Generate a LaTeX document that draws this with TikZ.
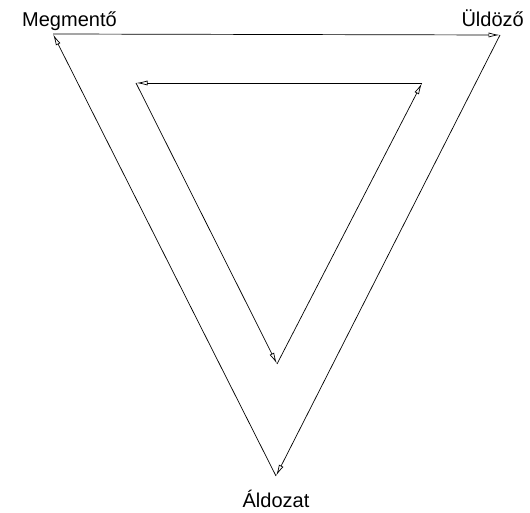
\documentclass[tikz,border=0pt]{standalone}
\usepackage{fontspec}
\setmainfont{Liberation Sans}
\usetikzlibrary{arrows.meta}
\begin{document}
\begin{tikzpicture}[
        x=1pt, y=1pt,
        >={Latex[open, length=11pt, width=5pt]},
        flow/.style={->, line width=0.7pt, shorten >=0.5pt},
        role/.style={inner sep=0pt, font=\fontsize{20}{24}\selectfont},
    ]
        \useasboundingbox (0,0) rectangle (530,512);

        % Outer triangle corners
        \coordinate (resc) at (53,478);
        \coordinate (pers) at (500,477);
        \coordinate (vict) at (276,36);

        % Inner triangle corners
        \coordinate (rescin) at (136,429);
        \coordinate (persin) at (422,429);
        \coordinate (victin) at (277,148);

        % Roles
        \node[role, anchor=base west] (rescuer) at (22,485) {Megmentő};
        \node[role, anchor=base east] (persecutor) at (524,485) {Üldöző};
        \node[role, anchor=base] (victim) at (276,5) {Áldozat};

        % Outer cycle
        \draw[flow] (resc) -- (pers);
        \draw[flow] (pers) -- (vict);
        \draw[flow] (vict) -- (resc);

        % Inner cycle
        \draw[flow] (persin) -- (rescin);
        \draw[flow] (rescin) -- (victin);
        \draw[flow] (victin) -- (persin);
    \end{tikzpicture}
\end{document}
